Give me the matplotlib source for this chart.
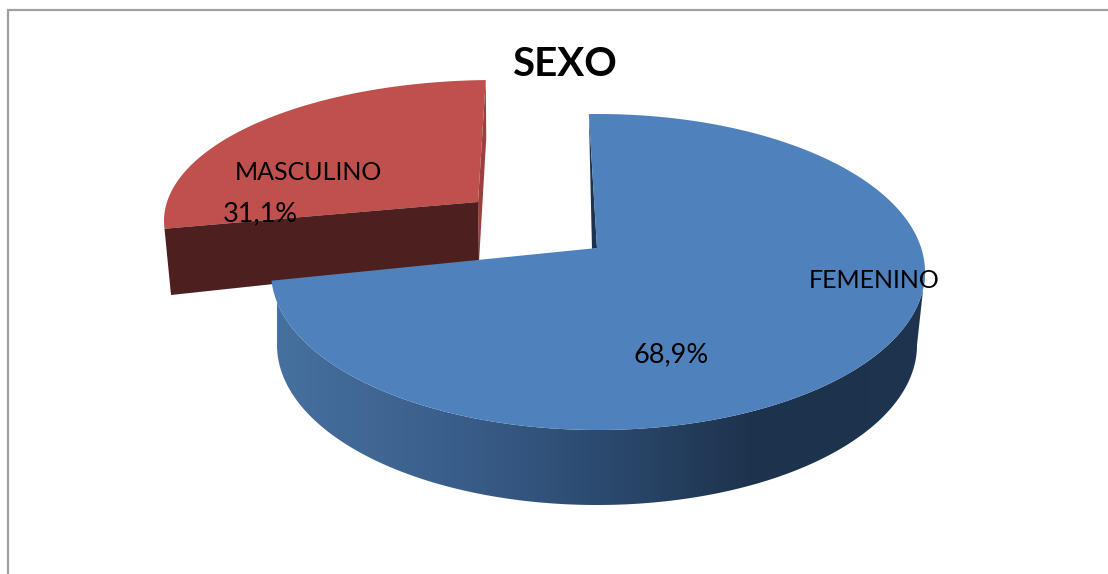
#%% 3D style pie, drawn by hand because matplotlib has no perspective pie
import numpy as np
import matplotlib
matplotlib.use('Agg')
import matplotlib.pyplot as plt
from matplotlib.colors import LinearSegmentedColormap
from matplotlib.patches import Polygon

plt.rcParams['font.family'] = ['Lato', 'DejaVu Sans']

#%% data
title = 'SEXO'
categories = ['FEMENINO', 'MASCULINO']
shares = [68.9, 31.1]

#%% geometry, all in pixels of the image
start_angle = 91.6     # where the first slice begins, on the ellipse
warp = 22              # the perspective stretches the angles around the pie

top_blue = dict(cx=598, cy=272, rx=327, ry=158)
bottom_blue = dict(cx=597, cy=345, rx=320, ry=160)
apex_blue = (597, 248)

top_red = dict(cx=495, cy=221, rx=331, ry=141)
apex_red = (478, 202)


def slice_angle(fraction):
    # cumulative share -> angle on the ellipse
    return start_angle - (360*fraction - warp*np.sin(2*np.pi*fraction))


def arc(e, a0, a1, n=200):
    a = np.radians(np.linspace(a0, a1, n))
    return np.column_stack([e['cx'] + e['rx']*np.cos(a), e['cy'] - e['ry']*np.sin(a)])


cum = np.cumsum(shares)/np.sum(shares)
a_start = slice_angle(0)
a_split = slice_angle(cum[0])
a_end = slice_angle(cum[1])

fig = plt.figure(figsize=(11.08, 5.74), dpi=100)
ax = fig.add_axes([0, 0, 1, 1])

#%% red slice, behind the blue one
red_arc = arc(top_red, a_split + 360, a_end + 360)
left_red = red_arc[0]
right_red = red_arc[-1]

# thin side wall on the right
ax.add_patch(Polygon([right_red, (right_red[0] + 0.5, 138), (479, 262), apex_red],
                     fc='#9A413F', ec='none'))
# top
ax.add_patch(Polygon(np.vstack([[apex_red], red_arc]), fc='#BF504D', ec='none'))
# cut face, runs a bit under the blue slice
ax.add_patch(Polygon([left_red, (171, 295), (479, 262), apex_red], fc='#4D1F1E', ec='none'))

#%% blue slice
side = np.vstack([arc(top_blue, a_split + 360, 360), arc(bottom_blue, 360, a_split + 360)])
side_patch = Polygon(side, fc='none', ec='none')
ax.add_patch(side_patch)

side_cmap = LinearSegmentedColormap.from_list('side', [(0.0, '#46709F'), (0.27, '#3A5E8B'),
                                                       (0.5, '#2C4A6F'), (0.74, '#1D324C'),
                                                       (1.0, '#1E344F')])
img = ax.imshow(np.linspace(0, 1, 256).reshape(1, -1), extent=(277, 926, 505, 270), cmap=side_cmap,
                aspect='auto', zorder=2)
img.set_clip_path(side_patch)

# dark wall seen at the inner corner
start_pt = arc(top_blue, a_start, a_start, 1)[0]
ax.add_patch(Polygon([start_pt, (apex_blue[0] - 5, apex_blue[1] + 1), apex_blue],
                     fc='#1D324C', ec='none', zorder=3))

blue_arc = arc(top_blue, a_start, a_split)
ax.add_patch(Polygon(np.vstack([[apex_blue], blue_arc]), fc='#4F81BD', ec='none', zorder=4))

#%% frame of the chart, only top and left fall inside the picture
ax.plot([8, 8, 1108], [574, 10, 10], color='#A0A0A0', lw=1.6, solid_joinstyle='miter', zorder=1)

#%% texts
ax.text(564, 65, title, fontsize=29, fontweight='bold', ha='center', va='center', zorder=6)
ax.text(874, 280, categories[0], fontsize=18, ha='center', va='center', zorder=6)
ax.text(671, 355, f'{shares[0]:.1f}%'.replace('.', ','), fontsize=19.5, ha='center', va='center', zorder=6)
ax.text(308, 172, categories[1], fontsize=18, ha='center', va='center', zorder=6)
ax.text(260, 214, f'{shares[1]:.1f}%'.replace('.', ','), fontsize=19.5, ha='center', va='center', zorder=6)

ax.set_xlim(0, 1108)
ax.set_ylim(574, 0)
ax.axis('off')

fig.savefig('out.png', dpi=100)
